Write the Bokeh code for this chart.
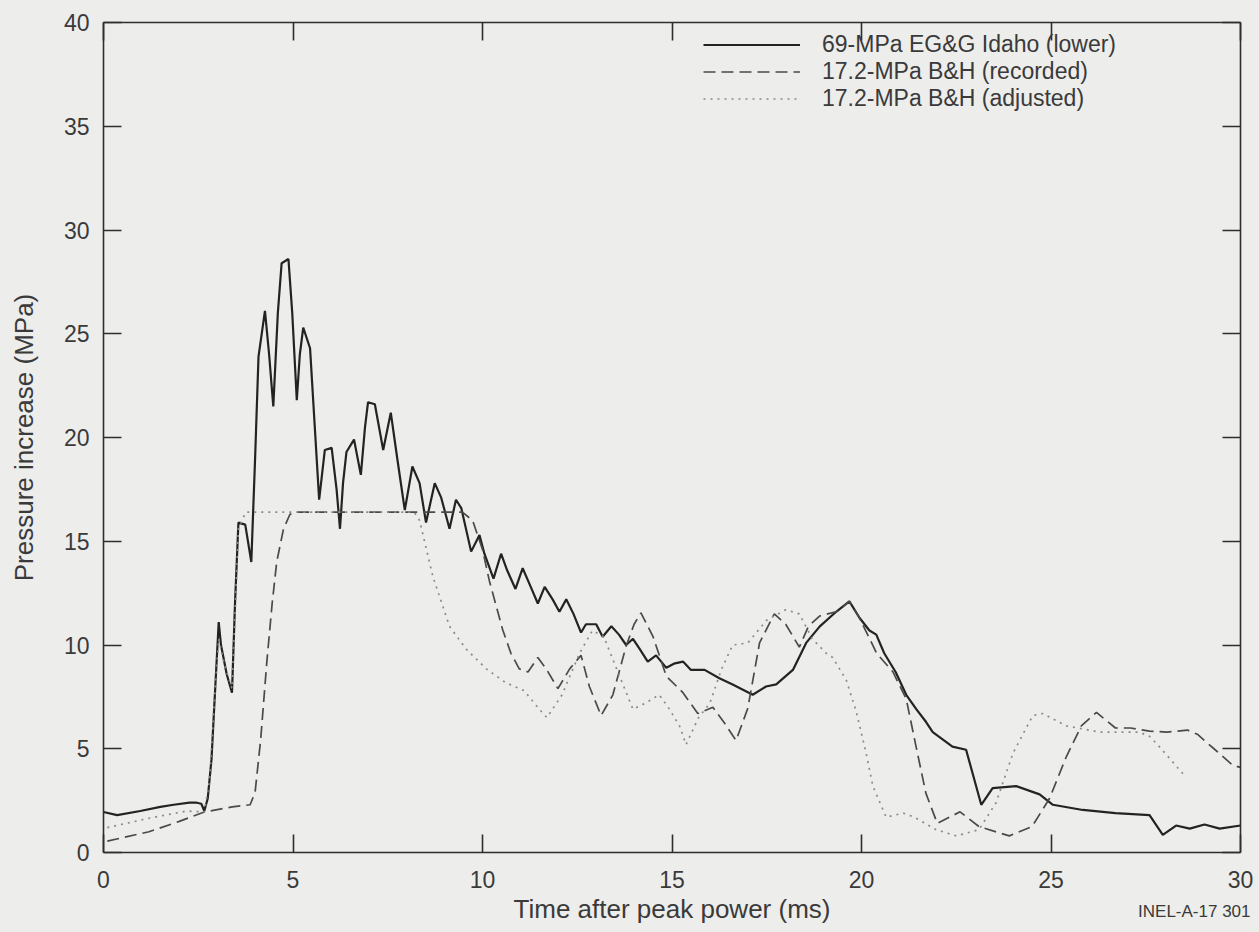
from bokeh.plotting import figure
from bokeh.models import (Range1d, LinearAxis, FixedTicker, Legend, LegendItem, Title,
                          CustomJSTickFormatter)
from bokeh.embed import file_html
from bokeh.resources import INLINE

# ---------------- data ----------------
x_ticks = [0, 5, 10, 15, 20, 25, 30]
y_ticks = [0, 5, 10, 15, 20, 25, 30, 35, 40]

egg_label = "69-MPa EG&G Idaho (lower)"
rec_label = "17.2-MPa B&H (recorded)"
adj_label = "17.2-MPa B&H (adjusted)"
figure_id = "INEL-A-17 301"

egg_t = [0.0, 0.36, 0.97, 1.5, 1.85, 2.27, 2.46, 2.58, 2.66, 2.75,
         2.85, 2.95, 3.04, 3.1, 3.25, 3.39, 3.47, 3.56, 3.74, 3.9,
         4.0, 4.09, 4.26, 4.37, 4.48, 4.6, 4.7, 4.88, 4.98, 5.1,
         5.18, 5.27, 5.45, 5.69, 5.84, 6.02, 6.15, 6.24, 6.32, 6.41,
         6.61, 6.79, 6.9, 6.98, 7.16, 7.38, 7.58, 7.75, 7.95, 8.15,
         8.34, 8.51, 8.74, 8.91, 9.13, 9.3, 9.44, 9.7, 9.92, 10.05,
         10.29, 10.49, 10.65, 10.87, 11.06, 11.25, 11.46, 11.64, 11.85, 12.03,
         12.21, 12.4, 12.6, 12.73, 13.0, 13.17, 13.4, 13.6, 13.79, 13.97,
         14.15, 14.36, 14.58, 14.85, 15.05, 15.29, 15.5, 15.86, 16.25, 16.6,
         17.13, 17.48, 17.75, 18.19, 18.54, 18.9, 19.33, 19.68, 19.95, 20.21,
         20.39, 20.6, 20.9, 21.18, 21.45, 21.7, 21.88, 22.4, 22.76, 23.16,
         23.46, 24.08, 24.7, 25.05, 25.84, 26.7, 27.6, 27.95, 28.3, 28.66,
         29.05, 29.45, 30.0]
egg_p = [1.95, 1.8, 2.0, 2.2, 2.3, 2.4, 2.4, 2.35, 2.0, 2.6,
         4.5, 8.0, 11.1, 10.0, 8.6, 7.7, 12.0, 15.9, 15.8, 14.0,
         19.0, 23.9, 26.1, 24.0, 21.5, 26.0, 28.4, 28.6, 26.0, 21.8,
         24.0, 25.3, 24.3, 17.0, 19.4, 19.5, 17.5, 15.6, 17.8, 19.3,
         19.9, 18.2, 20.5, 21.7, 21.6, 19.4, 21.2, 19.0, 16.5, 18.6,
         17.8, 15.9, 17.8, 17.1, 15.6, 17.0, 16.6, 14.5, 15.3, 14.4,
         13.2, 14.4, 13.6, 12.7, 13.7, 12.9, 12.0, 12.8, 12.2, 11.6,
         12.2, 11.5, 10.6, 11.0, 11.0, 10.4, 10.9, 10.5, 10.0, 10.3,
         9.8, 9.2, 9.5, 8.9, 9.1, 9.2, 8.8, 8.8, 8.4, 8.1,
         7.6, 8.0, 8.1, 8.8, 10.1, 10.9, 11.6, 12.1, 11.3, 10.7,
         10.5, 9.6, 8.7, 7.6, 6.9, 6.3, 5.8, 5.1, 4.95, 2.3,
         3.1, 3.2, 2.8, 2.3, 2.05, 1.9, 1.8, 0.85, 1.3, 1.15,
         1.35, 1.15, 1.3]

rec_t = [0.1, 1.2, 2.0, 2.66, 3.4, 3.87, 4.0, 4.15, 4.31, 4.45,
         4.57, 4.75, 4.92, 5.1, 9.47, 9.74, 10.0, 10.18, 10.53, 10.75,
         10.97, 11.2, 11.46, 11.68, 11.99, 12.3, 12.6, 12.82, 13.13, 13.44,
         13.79, 14.0, 14.18, 14.5, 14.85, 15.29, 15.68, 16.08, 16.4, 16.69,
         17.0, 17.31, 17.7, 18.0, 18.36, 18.6, 18.9, 19.33, 19.68, 19.95,
         20.4, 20.83, 21.18, 21.44, 21.7, 22.0, 22.6, 23.1, 23.9, 24.5,
         24.96, 25.4, 25.8, 26.2, 26.7, 27.1, 27.6, 28.06, 28.6, 28.86,
         29.3, 29.8, 30.0]
rec_p = [0.55, 1.0, 1.5, 1.95, 2.2, 2.3, 2.9, 5.5, 9.2, 12.0,
         14.0, 15.6, 16.3, 16.4, 16.4, 16.0, 14.6, 13.1, 10.75, 9.6,
         8.85, 8.7, 9.4, 8.85, 7.9, 8.85, 9.5, 8.0, 6.6, 7.6,
         9.95, 11.0, 11.55, 10.4, 8.5, 7.7, 6.7, 7.0, 6.2, 5.4,
         6.95, 10.1, 11.5, 11.0, 9.9, 10.9, 11.4, 11.6, 12.1, 11.3,
         9.6, 8.7, 7.4, 5.1, 2.85, 1.4, 1.96, 1.25, 0.8, 1.25,
         2.6, 4.6, 6.1, 6.75, 6.0, 6.0, 5.85, 5.8, 5.9, 5.7,
         5.0, 4.2, 4.1]

adj_t = [0.1, 1.2, 2.2, 2.66, 2.8, 2.95, 3.04, 3.2, 3.39, 3.47,
         3.56, 3.75, 8.2, 8.34, 8.69, 9.13, 9.57, 10.1, 10.6, 11.1,
         11.5, 11.7, 12.1, 12.56, 12.9, 13.2, 13.44, 13.97, 14.3, 14.66,
         14.9, 15.2, 15.37, 15.7, 16.0, 16.3, 16.6, 17.0, 17.5, 18.0,
         18.36, 18.7, 19.07, 19.24, 19.6, 19.86, 20.12, 20.3, 20.65, 21.1,
         21.4, 21.97, 22.5, 23.1, 23.55, 24.0, 24.52, 24.78, 25.4, 26.3,
         26.8, 27.33, 27.6, 27.86, 28.48]
adj_p = [1.2, 1.65, 2.0, 1.95, 3.5, 8.0, 10.3, 9.0, 7.9, 11.5,
         15.6, 16.4, 16.4, 16.0, 13.3, 10.9, 9.8, 8.85, 8.2, 7.8,
         6.9, 6.5, 7.6, 9.6, 10.7, 10.4, 9.3, 6.9, 7.2, 7.6,
         7.0, 6.1, 5.2, 6.5, 7.2, 8.8, 10.0, 10.1, 11.2, 11.7,
         11.5, 10.3, 9.6, 9.4, 8.3, 6.8, 4.8, 3.2, 1.7, 1.9,
         1.7, 1.1, 0.8, 1.1, 2.4, 4.8, 6.6, 6.7, 6.1, 5.8,
         5.8, 5.8, 5.6, 5.1, 3.8]

# ---------------- styling ----------------
FONT = "Liberation Sans"
INK = "#2e2e2e"
TXT = "#3a3a3a"
BG = "#ededeb"

p = figure(width=1259, height=932, x_range=Range1d(0, 30), y_range=Range1d(0, 40),
           output_backend="svg", toolbar_location=None,
           min_border_left=103, min_border_right=19, min_border_top=22,
           min_border_bottom=80)
p.background_fill_color = BG
p.border_fill_color = BG
p.outline_line_color = None
p.grid.visible = False

bottom = p.below[0]
left = p.left[0]
top = LinearAxis()
right = LinearAxis()
p.add_layout(top, "above")
p.add_layout(right, "right")

for ax in [bottom, top]:
    ax.ticker = FixedTicker(ticks=x_ticks)
for ax in [left, right]:
    ax.ticker = FixedTicker(ticks=y_ticks)

for ax in [bottom, left, top, right]:
    ax.axis_line_color = INK
    ax.axis_line_width = 1.6
    ax.major_tick_line_color = INK
    ax.major_tick_line_width = 1.6
    ax.major_tick_in = 18
    ax.major_tick_out = 0
    ax.minor_tick_line_color = None
    ax.major_label_text_font = FONT
    ax.major_label_text_color = TXT
    ax.major_label_text_font_size = "23px"
    ax.axis_label_text_font = FONT
    ax.axis_label_text_color = TXT
    ax.axis_label_text_font_style = "normal"
    ax.axis_label_text_font_size = "26px"

for ax in [top, right]:
    ax.formatter = CustomJSTickFormatter(code="return '';")
    ax.major_label_standoff = 0

bottom.axis_label = "Time after peak power (ms)"
bottom.major_label_standoff = 18
bottom.axis_label_standoff = 3
left.axis_label = "Pressure increase (MPa)"
left.major_label_standoff = 14
left.axis_label_standoff = 22

r_egg = p.line(egg_t, egg_p, line_color="#232323", line_width=2.2)
r_rec = p.line(rec_t, rec_p, line_color="#4a4a4a", line_width=1.7, line_dash="12 6")
r_adj = p.line(adj_t, adj_p, line_color="#8a8a8a", line_width=1.7, line_dash="2 5")

legend = Legend(items=[LegendItem(label=egg_label, renderers=[r_egg]),
                       LegendItem(label=rec_label, renderers=[r_rec]),
                       LegendItem(label=adj_label, renderers=[r_adj])],
                location=(600, 740), padding=0, margin=0, spacing=0,
                glyph_width=97, glyph_height=23, label_height=23,
                label_standoff=22, border_line_color=None,
                background_fill_alpha=0,
                label_text_font=FONT, label_text_font_size="23px",
                label_text_color=TXT)
p.add_layout(legend, "center")

tag = Title(text=figure_id, align="right", vertical_align="top", standoff=-50,
            offset=-10, text_font=FONT, text_font_size="17px", text_color=TXT,
            text_font_style="normal")
p.add_layout(tag, "below")

html = file_html(p, INLINE)
html = html.replace("</head>",
                    "<style>html, body { margin: 0; background-color: #ededeb; }</style></head>", 1)
open("out.html", "w").write(html)
